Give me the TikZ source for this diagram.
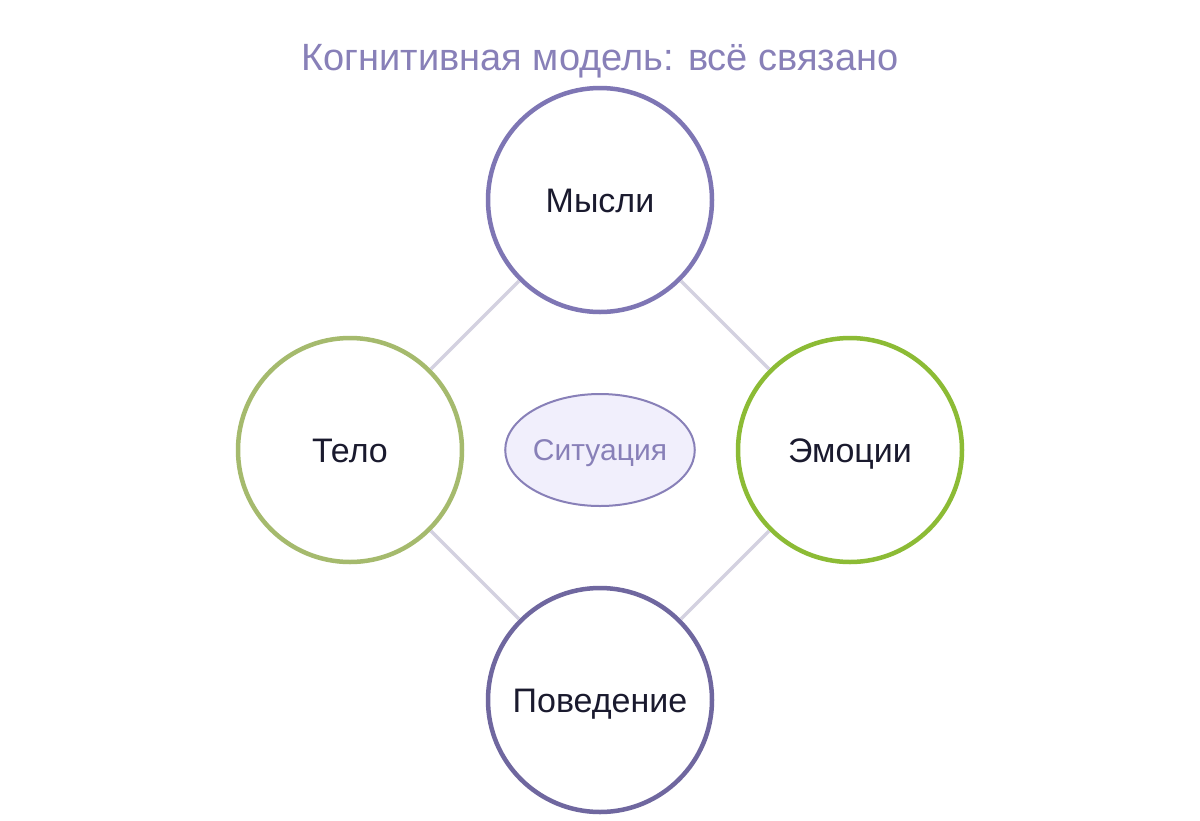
\documentclass[tikz,border=0pt]{standalone}
\usepackage{fontspec}
\setmainfont{Liberation Sans}
\usetikzlibrary{shapes.geometric}
\definecolor{titlecol}{HTML}{8880B8}
\definecolor{thinkcol}{HTML}{7E76B4}
\definecolor{actcol}{HTML}{6F679F}
\definecolor{bodycol}{HTML}{A5BA6D}
\definecolor{feelcol}{HTML}{8CBB35}
\definecolor{linkcol}{HTML}{D3D1E0}
\definecolor{textcol}{HTML}{1A1A2E}
\definecolor{sitfill}{HTML}{F1EFFC}
\begin{document}
\begin{tikzpicture}[x=1pt,y=-1pt,
  sphere/.style={circle,draw,line width=4.5pt,fill=white,minimum size=224pt,inner sep=0pt,
    text=textcol,font=\fontsize{34}{40}\selectfont,text height=24.3pt,text depth=0pt},
  link/.style={draw=linkcol,line width=3.5pt}]
  \useasboundingbox[fill=white] (0,0) rectangle (1200,820);
  \node[text=titlecol,font=\fontsize{38}{45}\selectfont,text height=27.2pt,text depth=0pt] (title) at (600,56.5) {Когнитивная модель: всё связано};
  \node[sphere,draw=thinkcol] (think) at (600,200) {Мысли};
  \node[sphere,draw=bodycol] (body) at (350,450) {Тело};
  \node[sphere,draw=feelcol] (feel) at (850,450) {Эмоции};
  \node[sphere,draw=actcol] (act) at (600,700) {Поведение};
  \node[ellipse,draw=titlecol,line width=2pt,fill=sitfill,minimum width=182pt,minimum height=112pt,inner sep=0pt,
    text=titlecol,font=\fontsize{30}{36}\selectfont,text height=21.5pt,text depth=0pt] (sit) at (600,450) {Ситуация};
  \draw[link] (think) -- (body);
  \draw[link] (think) -- (feel);
  \draw[link] (body) -- (act);
  \draw[link] (feel) -- (act);
\end{tikzpicture}
\end{document}
